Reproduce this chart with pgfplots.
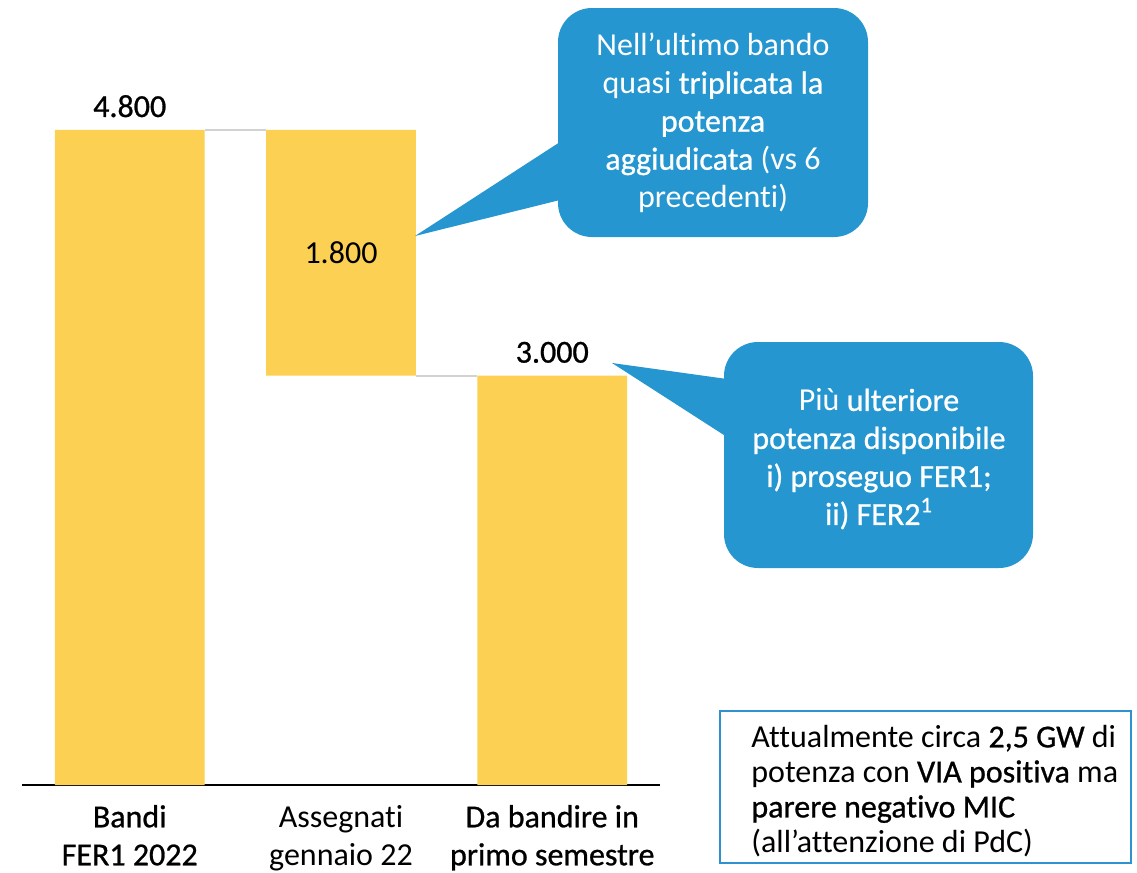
\documentclass[border=0pt]{standalone}
\usepackage{fontspec}
\setmainfont{Carlito}[Ligatures={NoCommon}]
\newfontface\md{Carlito}[FakeBold=0.8,Ligatures={NoCommon}]
\usepackage{pgfplots}
\pgfplotsset{compat=1.18}
\definecolor{baryellow}{RGB}{252,208,82}
\definecolor{callblue}{RGB}{37,150,208}
\definecolor{boxblue}{RGB}{46,146,208}
\definecolor{connector}{RGB}{210,210,210}
\newcommand{\fsz}{\fontsize{16pt}{19pt}\selectfont}
\begin{document}
\begin{tikzpicture}
\begin{axis}[
  at={(11pt,-392.5pt)}, anchor=south west,
  scale only axis, width=319pt, height=382.1pt,
  xmin=-0.51, xmax=2.51, ymin=0, ymax=5600,
  ybar stacked, bar width=0.709,
  axis x line*=bottom, hide y axis,
  x axis line style={line width=1pt, black, -},
  xtick={0,1,2}, major tick length=0,
  xticklabels={{\md Bandi\\\md FER1 2022},{Assegnati\\gennaio 22},{\md Da bandire in\\\md primo semestre}},
  xticklabel style={align=center, font=\fsz, yshift=-6.5pt},
  clip=false
]
\addplot[draw=none, fill=none] coordinates {(0,0) (1,3000) (2,0)};
\addplot[fill=baryellow, draw=none] coordinates {(0,4800) (1,1800) (2,3000)};
\draw[connector, line width=1pt] (axis cs:0.3546,4800) -- (axis cs:0.6454,4800);
\draw[connector, line width=1pt] (axis cs:1.3546,3000) -- (axis cs:1.6454,3000);
\node[anchor=base, font=\fsz, yshift=6.5pt] at (axis cs:0,4800) {\md 4.800};
\node[anchor=base, font=\fsz, yshift=6.5pt] at (axis cs:2,3000) {\md 3.000};
\end{axis}
\begin{scope}[x=0.5pt, y=-0.5pt]
  \node[anchor=center, font=\fsz] at (341,253) {1.800};
  % callout 1
  \fill[callblue, rounded corners=17pt] (558,8) rectangle (868,237);
  \fill[callblue] (560,142) -- (415,236) -- (560,200) -- cycle;
  \node[align=center, text=white, font=\fsz] at (713,123)
    {Nell’ultimo bando\\quasi {\md triplicata la}\\{\md potenza}\\{\md aggiudicata} (vs 6\\precedenti)};
  % callout 2
  \fill[callblue, rounded corners=17pt] (724,342) rectangle (1033,568);
  \fill[callblue] (727,379) -- (612,363) -- (727,437) -- cycle;
  \node[align=center, text=white, font=\fsz] at (879,459)
    {Più {\md ulteriore}\\{\md potenza disponibile}\\{\md i) proseguo FER1;}\\{\md ii) FER2\textsuperscript{1}}};
  % note box
  \draw[boxblue, line width=0.75pt] (720,711) rectangle (1131,863);
  \node[align=left, anchor=west, inner sep=0pt, font=\fontsize{16pt}{17.5pt}\selectfont] at (751,791)
    {Attualmente circa {\md 2,5 GW} di\\potenza con {\md VIA positiva} ma\\{\md parere negativo MIC}\\(all’attenzione di PdC)};
  \pgfresetboundingbox
  \path[use as bounding box] (0,0) rectangle (1137,873);
\end{scope}
\end{tikzpicture}
\end{document}
